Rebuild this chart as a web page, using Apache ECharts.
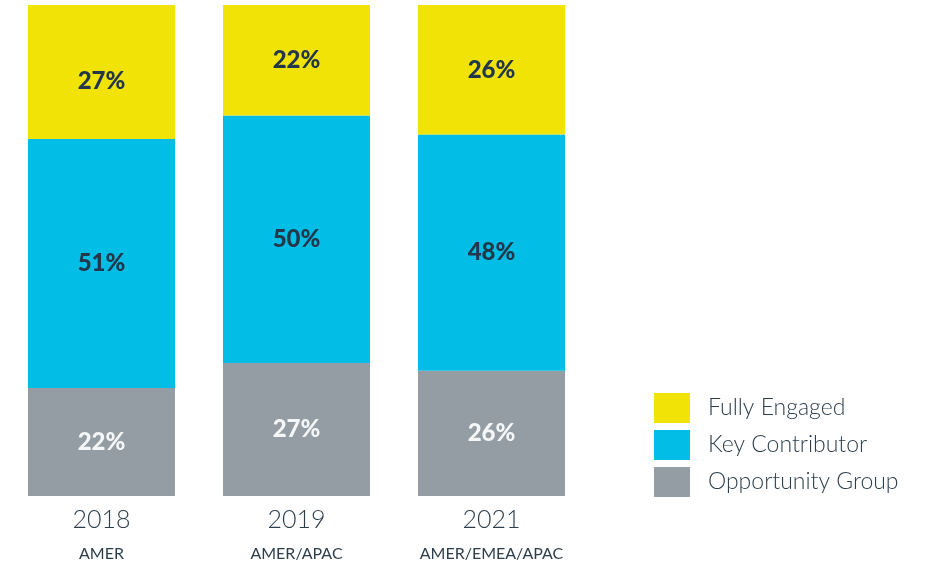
<!DOCTYPE html>
<html>
<head>
<meta charset="utf-8">
<script src="https://cdn.jsdelivr.net/npm/echarts@6/dist/echarts.min.js"></script>
<style>html,body{margin:0;padding:0;background:#fff}#c{width:927px;height:563px}</style>
</head>
<body>
<div id="c"></div>
<script>
const years = ['2018', '2019', '2021'];
const regions = ['AMER', 'AMER/APAC', 'AMER/EMEA/APAC'];
const seriesNames = ['Opportunity Group', 'Key Contributor', 'Fully Engaged'];
// bar segment shares (%)
const opportunity = [22.0, 27.1, 25.5];
const keyContributor = [50.7, 50.4, 48.1];
const fullyEngaged = [27.3, 22.5, 26.4];
// printed labels
const opportunityLabels = ['22%', '27%', '26%'];
const keyContributorLabels = ['51%', '50%', '48%'];
const fullyEngagedLabels = ['27%', '22%', '26%'];

const colors = ['#939da3', '#02bde6', '#f1e306'];
const textDark = '#22384a';
const FONT = 'Lato, "Open Sans", "Noto Sans", sans-serif';

const chart = echarts.init(document.getElementById('c'), null, {renderer: 'canvas'});

function mk(name, values, labels, color, labelColor, offsets) {
  return {
    name: name,
    type: 'bar',
    stack: 'total',
    barWidth: 147,
    itemStyle: {color: color},
    data: values.map((v, i) => {
      const d = {value: v};
      if (offsets && offsets[i]) d.label = {offset: [0, offsets[i]]};
      return d;
    }),
    label: {
      show: true,
      position: 'inside',
      formatter: p => labels[p.dataIndex],
      color: labelColor,
      fontFamily: FONT,
      fontWeight: 900,
      fontSize: 24
    },
    emphasis: {disabled: true}
  };
}

chart.setOption({
  animation: false,
  grid: {left: 4, right: 338, top: 5, bottom: 67, containLabel: false},
  legend: {
    orient: 'vertical',
    left: 654,
    top: 393,
    padding: 0,
    itemWidth: 36,
    itemHeight: 30,
    itemGap: 7,
    icon: 'rect',
    data: ['Fully Engaged', 'Key Contributor', 'Opportunity Group'],
    textStyle: {
      color: '#2d3e4b',
      fontFamily: FONT,
      fontWeight: 300,
      fontSize: 23,
      padding: [0, 0, 0, 13]
    },
    selectedMode: false
  },
  xAxis: {
    type: 'category',
    data: years,
    axisLine: {show: false},
    axisTick: {show: false},
    axisLabel: {
      margin: 7,
      interval: 0,
      formatter: (v, i) => '{y|' + v + '}\n{r|' + regions[i] + '}',
      rich: {
        y: {fontFamily: FONT, fontWeight: 300, fontSize: 25, color: '#2d3e4b', lineHeight: 34},
        r: {fontFamily: FONT, fontWeight: 400, fontSize: 16, color: '#2d3e4b', lineHeight: 34}
      }
    }
  },
  yAxis: {
    type: 'value',
    min: 0,
    max: 100,
    show: false,
    splitLine: {show: false}
  },
  series: [
    mk(seriesNames[0], opportunity, opportunityLabels, colors[0], '#f4f6f7'),
    mk(seriesNames[1], keyContributor, keyContributorLabels, colors[1], textDark),
    mk(seriesNames[2], fullyEngaged, fullyEngagedLabels, colors[2], textDark, [9, 0, 0])
  ]
});
</script>
</body>
</html>
